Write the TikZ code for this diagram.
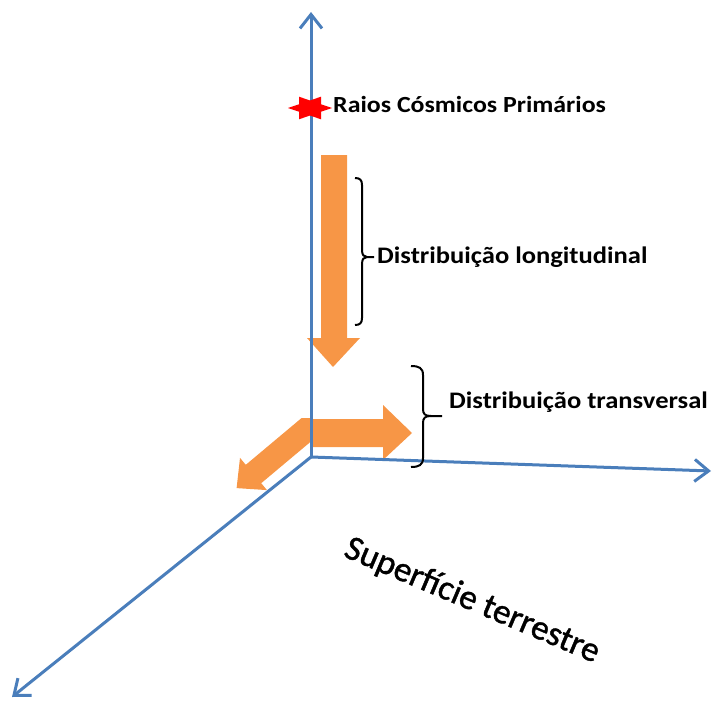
\documentclass[tikz,border=0pt]{standalone}
\usepackage{fontspec}
\setmainfont{Carlito}
\newfontfamily\labfont[FakeStretch=1.12]{Carlito}
\newfontfamily\supfont[FakeBold=1.2]{Carlito}
\usetikzlibrary{arrows.meta}
\definecolor{axisblue}{RGB}{74,126,187}
\definecolor{shower}{RGB}{247,150,70}
\begin{document}
\begin{tikzpicture}[x=1pt,y=-1pt,
  axis/.style={draw=axisblue, line width=3pt, -{Straight Barb[length=14pt,width=22pt]}},
  lab/.style={font=\labfont\bfseries\fontsize{23.7}{26}\selectfont, inner sep=0pt},
  brc/.style={draw=black, line width=2pt}]
\useasboundingbox (0,0) rectangle (715,701);
\coordinate (O) at (311,457);
\coordinate (Z) at (311,12);
\coordinate (X) at (711,471);
\coordinate (Y) at (12,697);
% orange arrows
\fill[shower] (321,155) -- (347,155) -- (347,338) -- (360,338) -- (333,367) -- (307,338) -- (321,338) -- cycle;
\fill[shower] (312,419) -- (383,419) -- (383,405) -- (412,433) -- (383,460) -- (383,447) -- (312,447) -- cycle;
\fill[shower] (301.6,418) -- (312,418) -- (312,440.6) -- (261.2,483.2) -- (267,490.1) -- (236.6,488.1) -- (240,457.9) -- (245.8,464.8) -- cycle;
% axes
\draw[axis] (O) -- (Z);
\draw[axis] (O) -- (X);
\draw[axis] (O) -- (Y);
% star
\fill[red, shift={(310,108)}] (22,0) -- (11,3.75) -- (11,11.3) -- (0,7.5) -- (-11,11.3) -- (-11,3.75) -- (-22,0) -- (-11,-3.75) -- (-11,-11.3) -- (0,-7.5) -- (11,-11.3) -- (11,-3.75) -- cycle;
% labels
\node[lab, font=\labfont\bfseries\fontsize{23.1}{26}\selectfont, anchor=base west] (raios) at (333,112) {Raios Cósmicos Primários};
\node[lab, anchor=base west] (long) at (377,263) {Distribuição longitudinal};
\node[lab, anchor=base west] (trans) at (449,408) {Distribuição transversal};
\node[font=\supfont\fontsize{35}{40}\selectfont, rotate=-23, inner sep=0pt] (sup) at (472,601) {Superfície terrestre};
% braces
\draw[brc] (355,178) .. controls (360,178) and (362,180) .. (362,185) -- (362,250) .. controls (362,255) and (364,257) .. (367,257) -- (374,257);
\draw[brc] (367,257) .. controls (364,257) and (362,259) .. (362,264) -- (362,318) .. controls (362,323) and (360,325) .. (355,325);
\draw[brc] (411,366) .. controls (419,366) and (423,368) .. (423,375) -- (423,409) .. controls (423,414) and (425,416) .. (431,416) -- (442,416);
\draw[brc] (431,416) .. controls (425,416) and (423,418) .. (423,423) -- (423,458) .. controls (423,465) and (419,467) .. (411,467);
\end{tikzpicture}
\end{document}
